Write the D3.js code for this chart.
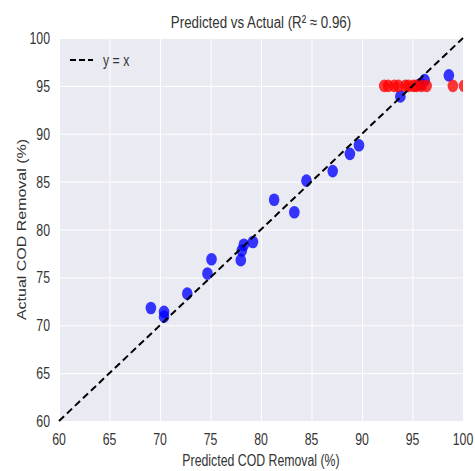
<!DOCTYPE html>
<html><head><meta charset="utf-8">
<script src="https://cdn.jsdelivr.net/npm/d3@7"></script>
<style>body{margin:0;background:#fff}svg{display:block}text{font-family:"Liberation Sans",Arial,sans-serif;fill:#333}</style>
</head><body><svg id="c" width="475" height="471"></svg>
<script>
const ticks = [60,65,70,75,80,85,90,95,100];
const bluePred   = [69.1,70.4,70.4,72.7,74.7,75.1,78.0,78.1,78.3,79.2,81.3,83.3,84.5,87.1,88.8,89.7,93.8,95.8,96.2,98.6];
const blueActual = [71.8,71.4,70.9,73.3,75.4,76.9,76.8,77.8,78.4,78.7,83.1,81.8,85.1,86.1,87.9,88.8,93.9,95.2,95.6,96.1];
const redPred    = [92.2,92.6,93.2,93.6,94.3,94.6,95.1,95.4,95.9,96.4,99.0,100.1];
const redActual  = [95,95,95,95,95,95,95,95,95,95,95,95];
const title = "Predicted vs Actual (R\u00B2 \u2248 0.96)";
const xLabel = "Predicted COD Removal (%)";
const yLabel = "Actual COD Removal (%)";
const legendLabel = "y = x";

const SX = 0.77;
const svg = d3.select("#c");
const L=59,R=463,T=38,B=421;
const x = d3.scaleLinear().domain([60,100]).range([L,R]);
const y = d3.scaleLinear().domain([60,100]).range([B,T]);

svg.append("rect").attr("x",L).attr("y",T).attr("width",R-L).attr("height",B-T).attr("fill","#EAEAF2");
svg.append("clipPath").attr("id","clip").append("rect").attr("x",L).attr("y",T).attr("width",R-L).attr("height",B-T);

const gx = svg.append("g").attr("transform",`translate(0,${B})`)
  .call(d3.axisBottom(x).tickValues(ticks).tickSize(-(B-T)).tickFormat(""));
const gy = svg.append("g").attr("transform",`translate(${L},0)`)
  .call(d3.axisLeft(y).tickValues(ticks).tickSize(-(R-L)).tickFormat(""));
[gx,gy].forEach(g=>{g.select(".domain").remove();g.selectAll("line").attr("stroke","#fff").attr("stroke-width",1);});

function txt(xp,yp,s,anchor,size,rot){
  return svg.append("text").attr("transform",`translate(${xp},${yp}) scale(${SX},1)`+(rot?` rotate(${rot})`:""))
    .attr("text-anchor",anchor).attr("font-size",size).text(s);
}
ticks.forEach(t=>{ txt(x(t),445,t,"middle",16); txt(50,y(t)+6,t,"end",16); });
txt((L+R)/2,28,title,"middle",17.3);
txt((L+R)/2,466,xLabel,"middle",16);
txt(26,(T+B)/2,yLabel,"middle",16,-90);

const pg = svg.append("g").attr("clip-path","url(#clip)");
pg.selectAll(".b").data(bluePred).join("ellipse")
  .attr("cx",(d)=>x(d)).attr("cy",(d,i)=>y(blueActual[i])).attr("rx",5.3).attr("ry",6.3)
  .attr("fill","#0000ff").attr("fill-opacity",0.78);
pg.selectAll(".r").data(redPred).join("ellipse")
  .attr("cx",(d)=>x(d)).attr("cy",(d,i)=>y(redActual[i])).attr("rx",5.3).attr("ry",6.3)
  .attr("fill","#ff0000").attr("fill-opacity",0.78);

svg.append("line").attr("x1",x(60)).attr("y1",y(60)).attr("x2",x(100)).attr("y2",y(100))
  .attr("stroke","#000").attr("stroke-width",2).attr("stroke-dasharray","7,4");

svg.append("line").attr("x1",70).attr("x2",93).attr("y1",60).attr("y2",60)
  .attr("stroke","#000").attr("stroke-width",2).attr("stroke-dasharray","6,3");
txt(103,66,legendLabel,"start",16);
</script></body></html>
